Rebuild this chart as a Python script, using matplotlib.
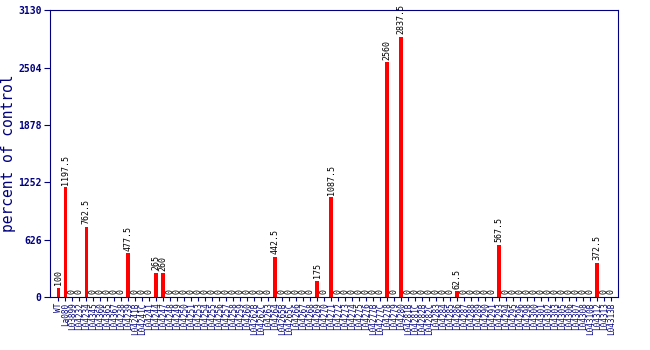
import matplotlib
matplotlib.use("Agg")
import matplotlib.pyplot as plt
import numpy as np

# tick labels (hard to read in the reference; best guesses)
labels = [
    "WT", "La080", "L03899", "L04232", "L04234", "L04345", "L04360", "L04365",
    "L04367", "L04238", "L04239", "L04241B", "L04241C", "L04241", "L04244",
    "L04247", "L04248", "L04249", "L04250", "L04251", "L04253", "L04254",
    "L04255", "L04256", "L04257", "L04258", "L04259", "L04260", "L04262B",
    "L04262C", "L04263", "L04264", "L04265B", "L04265C", "L04266", "L04267",
    "L04268", "L04269", "L04270", "L04271", "L04272", "L04273", "L04274",
    "L04275", "L04276", "L04277B", "L04277C", "L04278", "L04279", "L04280",
    "L04281B", "L04281C", "L04282B", "L04282C", "L04283", "L04284", "L04285",
    "L04286", "L04287", "L04288", "L04289", "L04290", "L04291", "L04293",
    "L04294", "L04295", "L04296", "L04298", "L04300", "L04301", "L04302",
    "L04303", "L04305", "L04306", "L04307", "L04308", "L04310B", "L04312",
    "L04313", "L04313B",
]

values = [0.0] * 80
values[0] = 100
values[1] = 1197.5
values[4] = 762.5
values[10] = 477.5
values[14] = 265
values[15] = 260
values[31] = 442.5
values[37] = 175
values[39] = 1087.5
values[47] = 2560
values[49] = 2837.5
values[57] = 62.5
values[63] = 567.5
values[77] = 372.5

yticks = [0, 626, 1252, 1878, 2504, 3130]

navy = "#000080"
plt.rcParams["font.family"] = ["DejaVu Sans Mono"]

fig = plt.figure(figsize=(6.5, 3.5), dpi=100)
ax = fig.add_axes([0.077, 0.151, 0.874, 0.82])

x = np.arange(len(values))
ax.bar(x, values, width=0.55, color="red")

for xi, v in zip(x, values):
    txt = "{:g}".format(v)
    ax.text(xi, v + 30, txt, rotation=90, ha="center", va="bottom",
            fontsize=6, color="black")

ax.set_xlim(-1.2, 80)
ax.set_ylim(0, 3130)
ax.set_yticks(yticks)
ax.set_yticklabels([str(t) for t in yticks], fontsize=7, fontweight="bold", color=navy)
ax.set_xticks(x)
ax.set_xticklabels(labels, rotation=90, fontsize=5.6, color=navy)
ax.tick_params(axis="x", length=3, color=navy, pad=1)
ax.tick_params(axis="y", length=4, color=navy, pad=2)
for s in ax.spines.values():
    s.set_color(navy)
ax.set_ylabel("percent of control", fontsize=10.5, color=navy)
ax.yaxis.set_label_coords(-0.06, 0.5)

fig.savefig("out.png")
